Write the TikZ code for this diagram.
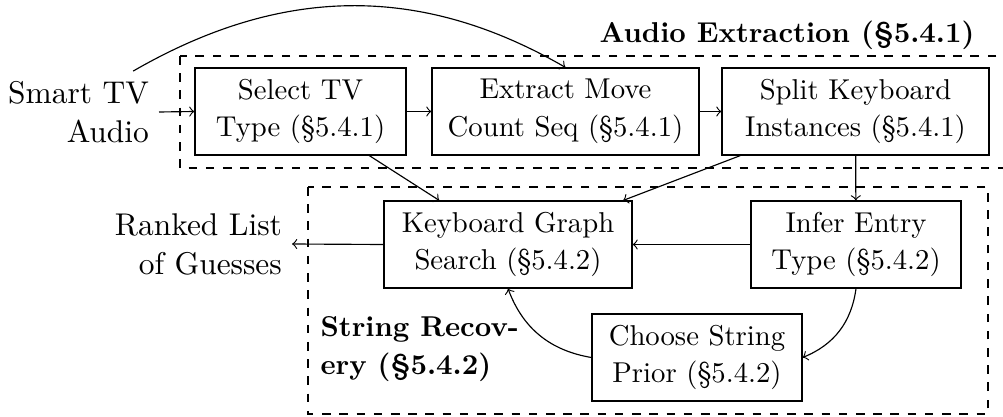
\documentclass[tikz,border=0pt]{standalone}
\begin{document}
\begin{tikzpicture}[x=0.3484pt, y=0.3484pt,
  txt/.style={font=\fontsize{10}{13.2}\selectfont},
  box/.style={txt, draw, align=center, minimum height=30.3pt, inner sep=0pt},
  ext/.style={font=\fontsize{10.95}{13.6}\selectfont, align=right},
  grp/.style={draw, dashed},
  grptitle/.style={font=\fontsize{10}{13.2}\selectfont\bfseries, inner sep=0pt},
  flow/.style={->}]
\useasboundingbox (0,0) rectangle (1003,-417);

% group frames
\draw[grp] (180,-56) rectangle (1010,-168);
\draw[grp] (308,-187) rectangle (988,-414);
\node[grptitle, anchor=base east] (audiottl) at (975,-43) {Audio Extraction (\S5.4.1)};
\node[grptitle, align=left, anchor=north west] (stringttl) at (320,-316) {String Recov-\\ery (\S5.4.2)};

% inputs and outputs
\node[ext, anchor=east] (smart) at (159,-112) {Smart TV\\Audio};
\node[ext, anchor=east] (ranked) at (292,-244) {Ranked List\\of Guesses};

% audio extraction steps
\node[box, minimum width=73.5pt] (select) at (300.5,-111.5) {Select TV\\Type (\S5.4.1)};
\node[box, minimum width=93pt] (extract) at (565.5,-111.5) {Extract Move\\Count Seq (\S5.4.1)};
\node[box, minimum width=93pt] (split) at (855.5,-111.5) {Split Keyboard\\Instances (\S5.4.1)};

% string recovery steps
\node[box, minimum width=86.4pt] (keyboard) at (508,-244.5) {Keyboard Graph\\Search (\S5.4.2)};
\node[box, minimum width=73.2pt] (infer) at (856,-244.5) {Infer Entry\\Type (\S5.4.2)};
\node[box, minimum width=73.2pt] (choose) at (697,-357.5) {Choose String\\Prior (\S5.4.2)};

% connectors
\draw[flow] (smart.east) -- (select.west);
\draw[flow] (select) -- (extract);
\draw[flow] (extract) -- (split);
\draw[flow] ([xshift=-9pt]smart.north east) to[out=30,in=150] (extract.north);
\draw[flow] (select) -- (keyboard);
\draw[flow] (split) -- (keyboard);
\draw[flow] (split) -- (infer);
\draw[flow] (infer) -- (keyboard);
\draw[flow] (keyboard.west) -- (ranked.east);
\draw[flow] (infer.south) to[bend left=30] (choose.east);
\draw[flow] (choose.west) to[bend left=30] (keyboard.south);
\end{tikzpicture}
\end{document}
